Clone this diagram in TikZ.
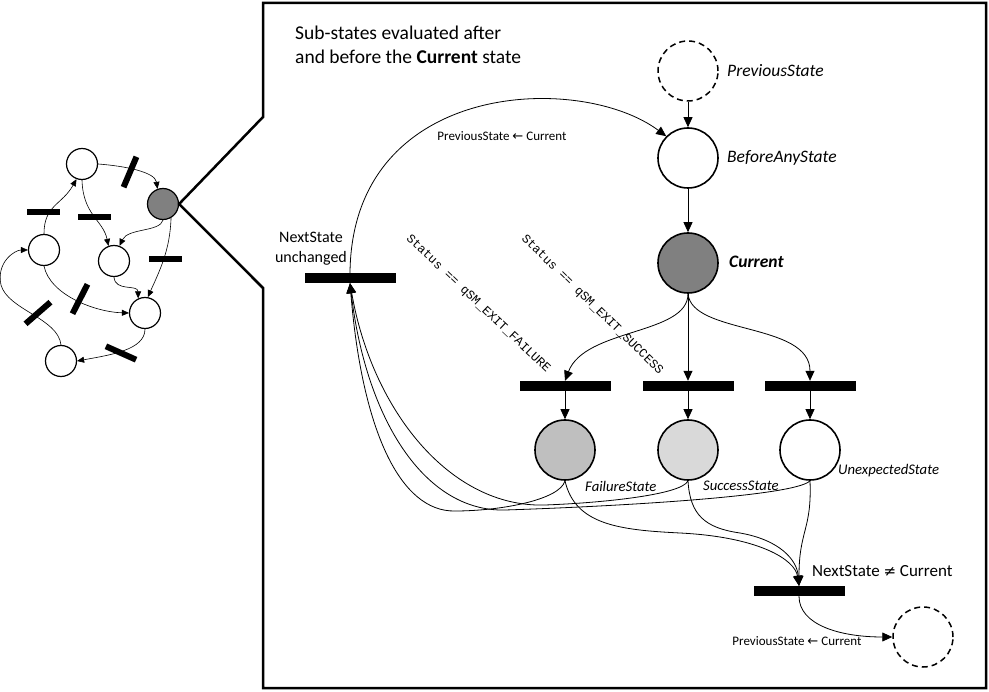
\documentclass[tikz,border=0pt]{standalone}
\usepackage{fontspec}
\setmainfont{Carlito}
\newfontfamily\monofont{Liberation Mono}
\newfontfamily\symfont{DejaVu Sans}
\usetikzlibrary{arrows.meta}
\definecolor{grayC}{HTML}{808080}
\definecolor{grayF}{HTML}{BFBFBF}
\definecolor{grayS}{HTML}{D9D9D9}
\tikzset{
  place/.style={circle, draw, line width=1.6pt, minimum size=60pt, inner sep=0pt, fill=white},
  ghost/.style={circle, draw, dash pattern=on 6pt off 4pt, line width=1.5pt, minimum size=60pt, inner sep=0pt},
  tbar/.style={rectangle, fill=black, minimum width=91pt, minimum height=10pt, inner sep=0pt},
  arc/.style={-{Triangle[length=10pt,width=9pt]}, line width=0.8pt},
  sarc/.style={-{Triangle[length=7pt,width=6pt]}, line width=0.6pt},
  splace/.style={circle, draw, line width=1.2pt, minimum size=31pt, inner sep=0pt, fill=white},
  sbar/.style={rectangle, fill=black, minimum width=33pt, minimum height=6pt, inner sep=0pt},
  ilab/.style={font=\fontsize{17.5}{20}\selectfont\itshape, inner sep=0pt},
  slab/.style={font=\fontsize{14.7}{18}\selectfont\itshape, inner sep=0pt},
  tlab/.style={font=\fontsize{16}{19}\selectfont, inner sep=0pt},
  alab/.style={font=\fontsize{13}{15}\selectfont, inner sep=0pt},
  mlab/.style={font=\fontsize{12.4}{14}\monofont, inner sep=0pt},
}
\newcommand{\larrow}{{\symfont\fontsize{13}{15}\selectfont ←}}
\begin{document}
\begin{tikzpicture}[x=1pt,y=-1pt]
\useasboundingbox (0,0) rectangle (989,692);

% ---------- small overview net ----------
\node[splace] (sA) at (82,164) {};
\node[splace, fill=grayC] (sG) at (163,204) {};
\node[splace] (sB) at (44,250) {};
\node[splace] (sC) at (114,261) {};
\node[splace] (sD) at (145,313) {};
\node[splace] (sE) at (61,361) {};

\draw[sarc] (sA.east) .. controls (125,166) and (155,172) .. (sG.110);
\draw[sarc] (sB.north) .. controls (44,205) and (62,205) .. (sA.250);
\draw[sarc] (sA.south) .. controls (83,215) and (103,220) .. (sC.110);
\draw[sarc] (sG.south) .. controls (160,232) and (128,228) .. (sC.70);
\draw[sarc] (sG.-60) .. controls (170,250) and (160,270) .. (sD.80);
\draw[sarc] (sC.south) .. controls (115,292) and (138,284) .. (sD.115);
\draw[sarc] (sB.south) .. controls (50,295) and (95,312) .. (sD.west);
\draw[sarc] (sD.south) .. controls (145,350) and (110,355) .. (sE.east);
\draw[sarc] (sE.north) .. controls (58,318) and (8,310) .. (1,285) .. controls (-4,262) and (15,250) .. (sB.west);

\node[sbar, rotate=67] (sb1) at (130,172) {};
\node[sbar] (sb2) at (43,212) {};
\node[sbar] (sb3) at (94,217) {};
\node[sbar] (sb4) at (165,259) {};
\node[sbar, rotate=63] (sb5) at (80,299) {};
\node[sbar, rotate=41] (sb6) at (38,313) {};
\node[sbar, rotate=-24] (sb7) at (121,353) {};

% ---------- callout frame ----------
\coordinate (f1) at (263,117);
\coordinate (f2) at (263,288);
\draw[line width=2.5pt, line join=miter] (f1) -- (263,3) -- (986,3) -- (986,688) -- (263,688) -- (f2) -- (sG.east) -- cycle;

% ---------- title ----------
\node[anchor=base west, inner sep=0pt, font=\fontsize{19.5}{24}\selectfont] (t1) at (295,40) {Sub-states evaluated after};
\node[anchor=base west, inner sep=0pt, font=\fontsize{19.5}{24}\selectfont] (t2) at (295,64) {and before the \textbf{Current} state};

% ---------- main net ----------
\node[ghost] (pp) at (688,71) {};
\node[place] (ba) at (688,158) {};
\node[place, fill=grayC] (cu) at (688,263) {};
\node[tbar] (tf) at (565,386) {};
\node[tbar] (ts) at (688,386) {};
\node[tbar] (tx) at (810,386) {};
\node[place, fill=grayF] (fs) at (565,450) {};
\node[place, fill=grayS] (ss) at (688,450) {};
\node[place] (us) at (810,450) {};
\node[tbar] (tu) at (350,278) {};
\node[tbar] (tn) at (799,591) {};
\node[ghost] (pn) at (923,637) {};

% labels
\node[ilab, anchor=west] (lpp) at (727,71) {PreviousState};
\node[ilab, anchor=west] (lba) at (727,158) {BeforeAnyState};
\node[ilab, anchor=west, font=\fontsize{17.5}{20}\selectfont\bfseries\itshape] (lcu) at (729,262) {Current};
\node[slab, anchor=west] (lfs) at (585,486) {FailureState};
\node[slab, anchor=west] (lss) at (703,486) {SuccessState};
\node[slab, anchor=west] (lus) at (838,471) {UnexpectedState};
\node[tlab, anchor=base] (lu1) at (311,243) {NextState};
\node[tlab, anchor=base] (lu2) at (311,263) {unchanged};
\node[anchor=west, inner sep=0pt, font=\fontsize{17}{20}\selectfont] (lne) at (812,571) {NextState {\symfont\fontsize{15}{18}\selectfont ≠} Current};
\node[alab] (la1) at (502,136) {PreviousState \larrow{} Current};
\node[alab] (la2) at (797,641) {PreviousState \larrow{} Current};
\node[mlab, rotate=-43.5] (lfail) at (478,304) {Status == qSM\_EXIT\_FAILURE};
\node[mlab, rotate=-44.5] (lsucc) at (592,305) {Status == qSM\_EXIT\_SUCCESS};

% arcs
\draw[arc] (pp) -- (ba);
\draw[arc] (ba) -- (cu);
\draw[arc] (cu) -- (ts);
\draw[arc] (cu.south) .. controls (688,335) and (585,328) .. (tf.north);
\draw[arc] (cu.south) .. controls (692,335) and (810,322) .. (tx.north);
\draw[arc] (tf) -- (fs);
\draw[arc] (ts) -- (ss);
\draw[arc] (tx) -- (us);

\draw[arc] (tu.north) .. controls (352,80) and (580,72) .. (ba.135);

\draw[arc] (fs.south) .. controls (560,500) and (500,511) .. (455,511) .. controls (400,512) and (362,430) .. (tu.south);
\draw[arc] (us.south) .. controls (795,497) and (600,507) .. (505,510) .. controls (425,512) and (366,420) .. (tu.south);
\draw[arc] (ss.south) .. controls (682,495) and (600,503) .. (545,505) .. controls (450,508) and (372,410) .. (tu.south);

\draw[arc] (fs.south) .. controls (575,525) and (620,530) .. (680,533) .. controls (760,537) and (795,560) .. (tn.north);
\draw[arc] (ss.south) .. controls (690,515) and (705,528) .. (740,533) .. controls (780,540) and (797,560) .. (tn.north);
\draw[arc] (us.south) .. controls (812,530) and (799,530) .. (tn.north);

\draw[arc] (tn.south) .. controls (799,625) and (840,637) .. (pn.west);
\end{tikzpicture}
\end{document}
